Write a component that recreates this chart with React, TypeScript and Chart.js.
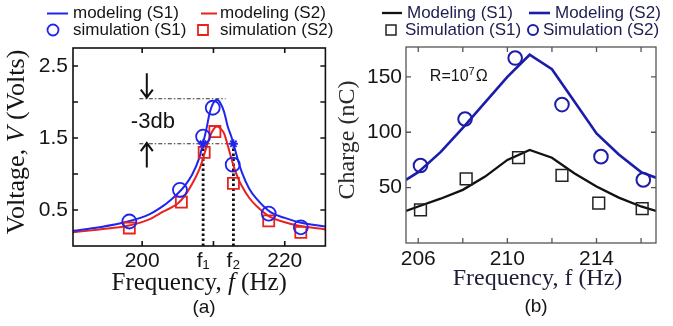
import React, { useEffect, useRef } from "react";
import { Chart, registerables } from "chart.js";

Chart.register(...registerables);

const SANS = "'Liberation Sans', Arial, Helvetica, sans-serif";
const SERIF = "'Liberation Serif', 'Times New Roman', Times, serif";

// ---------------- Panel (a): voltage vs frequency ----------------
const aModelFreq = [190.3, 194, 198, 201, 203, 204, 205, 206, 207, 208, 208.5, 209, 209.5, 210, 210.5, 211, 211.5, 212, 212.5, 213, 213.5, 214, 215, 216, 218, 220, 222, 225.7];
const aModelS1 = [0.21, 0.26, 0.34, 0.44, 0.56, 0.64, 0.73, 0.84, 0.99, 1.22, 1.41, 1.62, 1.86, 1.99, 2.03, 1.98, 1.86, 1.66, 1.52, 1.35, 1.17, 1.02, 0.8, 0.66, 0.47, 0.39, 0.33, 0.27];
const aModelS2 = [0.19, 0.23, 0.28, 0.37, 0.48, 0.53, 0.59, 0.7, 0.86, 1.06, 1.2, 1.37, 1.52, 1.62, 1.66, 1.63, 1.56, 1.4, 1.22, 1.06, 0.93, 0.83, 0.67, 0.56, 0.4, 0.33, 0.28, 0.23];
const aSimFreqS1 = [198.2, 205.3, 208.55, 209.9, 212.7, 217.75, 222.25];
const aSimS1 = [0.34, 0.78, 1.52, 1.92, 1.13, 0.45, 0.26];
const aSimFreqS2 = [198.2, 205.5, 208.7, 210.2, 212.8, 217.75, 222.25];
const aSimS2 = [0.25, 0.61, 1.3, 1.59, 0.87, 0.35, 0.19];
const aF1 = 208.55;
const aF2 = 212.8;
const aPeakLevel = 2.045;
const aHalfLevel = 1.42;
const aRefStart = 199.6;
const aPeakRefEnd = 211.7;
const aArrowX = 200.65;
const aDownArrow = [2.4, 2.06];
const aUpArrow = [1.09, 1.43];
const aDbLabel = "-3db";
const aDbLabelAt = [201.5, 1.73];
const aXTickValues = [200, aF1, aF2, 220];
const aXTickLabels = ["200", "f\u2081", "f\u2082", "220"];
const aXMarks = [200, 210, 220];
const aYTickValues = [0.5, 1.5, 2.5];
const aYTickLabels = ["0.5", "1.5", "2.5"];
const aYMarks = [0.5, 1, 1.5, 2, 2.5];
const aXRange = [190.3, 225.7];
const aYRange = [0, 2.75];

// ---------------- Panel (b): charge vs frequency ----------------
const bModelFreq = [205.45, 206, 207, 208, 209, 210, 211, 212, 213, 214, 215, 216, 216.67];
const bModelS1 = [29, 33, 40, 48, 60, 75, 84, 77, 63, 51, 41, 33, 29];
const bModelS2 = [57, 64, 82, 104, 127, 150, 170, 157, 128, 99, 80, 64, 59];
const bSimFreqS1 = [206.1, 208.15, 210.5, 212.45, 214.1, 216.05];
const bSimS1 = [30, 58, 77, 61, 36, 31];
const bSimFreqS2 = [206.1, 208.1, 210.35, 212.45, 214.2, 216.1];
const bSimS2 = [70, 112, 167, 125, 78, 57];
const bXTickValues = [206, 210, 214];
const bXMarks = [206, 208, 210, 212, 214, 216];
const bYTickValues = [50, 100, 150];
const bYMarks = [50, 100, 150];
const bXRange = [205.45, 216.67];
const bYRange = [0, 177];
const bNoteAt = [206.52, 150];

const zip = (xs: number[], ys: number[]) => xs.map((x, i) => ({ x, y: ys[i] }));

function framePlugin(id: string, xMarks: number[], yMarks: number[], color: string, width: number) {
  return {
    id,
    afterDatasetsDraw(chart: any) {
      const { ctx, chartArea, scales } = chart;
      const { left, right, top, bottom } = chartArea;
      const len = 5;
      ctx.save();
      ctx.strokeStyle = color;
      ctx.lineWidth = width;
      ctx.strokeRect(left, top, right - left, bottom - top);
      ctx.beginPath();
      xMarks.forEach((v) => {
        const px = scales.x.getPixelForValue(v);
        ctx.moveTo(px, bottom);
        ctx.lineTo(px, bottom - len);
        ctx.moveTo(px, top);
        ctx.lineTo(px, top + len);
      });
      yMarks.forEach((v) => {
        const py = scales.y.getPixelForValue(v);
        ctx.moveTo(left, py);
        ctx.lineTo(left + len, py);
        ctx.moveTo(right, py);
        ctx.lineTo(right - len, py);
      });
      ctx.stroke();
      ctx.restore();
    },
  };
}

type Part = { t: string; italic?: boolean };
function drawRich(ctx: CanvasRenderingContext2D, parts: Part[], size: number, family: string, color: string, cx: number, cy: number, rotate: boolean) {
  ctx.save();
  ctx.translate(cx, cy);
  if (rotate) ctx.rotate(-Math.PI / 2);
  const fonts = parts.map((p) => `${p.italic ? "italic " : ""}${size}px ${family}`);
  let total = 0;
  const widths = parts.map((p, i) => {
    ctx.font = fonts[i];
    const w = ctx.measureText(p.t).width;
    total += w;
    return w;
  });
  let x = -total / 2;
  ctx.fillStyle = color;
  ctx.textBaseline = "middle";
  ctx.textAlign = "left";
  parts.forEach((p, i) => {
    ctx.font = fonts[i];
    ctx.fillText(p.t, x, 0);
    x += widths[i];
  });
  ctx.restore();
}

type LegItem = { text: string; ds: number; kind: "line" | "circle" | "rect"; sx: number; sw: number; tx: number; y: number };
function legendPlugin(id: string, items: LegItem[], textColor: string) {
  return {
    id,
    afterDraw(chart: any) {
      const ctx: CanvasRenderingContext2D = chart.ctx;
      ctx.save();
      items.forEach((it) => {
        const ds: any = chart.data.datasets[it.ds];
        ctx.strokeStyle = ds.borderColor;
        ctx.lineWidth = it.kind === "line" ? ds.borderWidth : ds.pointBorderWidth;
        ctx.beginPath();
        if (it.kind === "line") {
          ctx.moveTo(it.sx, it.y);
          ctx.lineTo(it.sx + it.sw, it.y);
        } else if (it.kind === "circle") {
          ctx.arc(it.sx, it.y, it.sw, 0, Math.PI * 2);
        } else {
          ctx.rect(it.sx - it.sw, it.y - it.sw, it.sw * 2, it.sw * 2);
        }
        ctx.stroke();
        ctx.fillStyle = textColor;
        ctx.font = `17px ${SANS}`;
        ctx.textBaseline = "middle";
        ctx.textAlign = "left";
        ctx.fillText(it.text, it.tx, it.y);
      });
      ctx.restore();
    },
  };
}

function arrow(ctx: CanvasRenderingContext2D, x: number, y0: number, y1: number) {
  const dir = y1 > y0 ? 1 : -1;
  ctx.beginPath();
  ctx.moveTo(x, y0);
  ctx.lineTo(x, y1);
  ctx.moveTo(x - 6, y1 - dir * 8);
  ctx.lineTo(x, y1);
  ctx.lineTo(x + 6, y1 - dir * 8);
  ctx.stroke();
}

function buildA(): any {
  const blue = "#1f24ef";
  const red = "#e8231f";
  const annotate = {
    id: "annotateA",
    afterDraw(chart: any) {
      const { ctx, scales, chartArea } = chart;
      const { x, y } = scales;
      ctx.save();
      ctx.strokeStyle = "#111";
      ctx.lineWidth = 2;
      const ax = x.getPixelForValue(aArrowX);
      arrow(ctx, ax, y.getPixelForValue(aDownArrow[0]), y.getPixelForValue(aDownArrow[1]));
      arrow(ctx, ax, y.getPixelForValue(aUpArrow[0]), y.getPixelForValue(aUpArrow[1]));
      ctx.fillStyle = "#111";
      ctx.font = `22px ${SANS}`;
      ctx.textAlign = "center";
      ctx.textBaseline = "middle";
      ctx.fillText(aDbLabel, x.getPixelForValue(aDbLabelAt[0]), y.getPixelForValue(aDbLabelAt[1]));
      ctx.restore();
      const cx = (chartArea.left + chartArea.right) / 2;
      const cy = (chartArea.top + chartArea.bottom) / 2;
      drawRich(ctx, [{ t: "Voltage, " }, { t: "V", italic: true }, { t: " (Volts)" }], 26, SERIF, "#151515", 17, cy - 5, true);
      drawRich(ctx, [{ t: "Frequency, " }, { t: "f", italic: true }, { t: " (Hz)" }], 25, SERIF, "#151515", cx, 283, false);
      drawRich(ctx, [{ t: "(a)" }], 19, SANS, "#151515", 204, 308, false);
    },
  };
  const legend = legendPlugin(
    "legendA",
    [
      { text: "modeling (S1)", ds: 0, kind: "line", sx: 47, sw: 21, tx: 73, y: 13.5 },
      { text: "modeling (S2)", ds: 1, kind: "line", sx: 201, sw: 16, tx: 220, y: 13.5 },
      { text: "simulation (S1)", ds: 2, kind: "circle", sx: 53, sw: 5.5, tx: 73, y: 30 },
      { text: "simulation (S2)", ds: 3, kind: "rect", sx: 203, sw: 5, tx: 220, y: 30 },
    ],
    "#151515"
  );
  return {
    type: "line",
    data: {
      datasets: [
        { label: "modeling (S1)", data: zip(aModelFreq, aModelS1), borderColor: blue, borderWidth: 2, pointRadius: 0, cubicInterpolationMode: "monotone", order: 3 },
        { label: "modeling (S2)", data: zip(aModelFreq, aModelS2), borderColor: red, borderWidth: 2, pointRadius: 0, cubicInterpolationMode: "monotone", order: 4 },
        { label: "simulation (S1)", data: zip(aSimFreqS1, aSimS1), showLine: false, pointStyle: "circle", pointRadius: 7, borderColor: blue, pointBorderColor: blue, pointBackgroundColor: "rgba(0,0,0,0)", pointBorderWidth: 1.8, order: 1 },
        { label: "simulation (S2)", data: zip(aSimFreqS2, aSimS2), showLine: false, pointStyle: "rect", pointRadius: 7.8, borderColor: red, pointBorderColor: red, pointBackgroundColor: "rgba(0,0,0,0)", pointBorderWidth: 1.8, order: 2 },
        { label: "peak", data: [{ x: aRefStart, y: aPeakLevel }, { x: aPeakRefEnd, y: aPeakLevel }], borderColor: "#333", borderWidth: 1.2, borderDash: [4, 2, 1.5, 2], pointRadius: 0, order: 6 },
        { label: "half", data: [{ x: aRefStart, y: aHalfLevel }, { x: aF2, y: aHalfLevel }], borderColor: "#333", borderWidth: 1.2, borderDash: [4, 2, 1.5, 2], pointRadius: 0, order: 6 },
        { label: "f1", data: [{ x: aF1, y: aYRange[0] }, { x: aF1, y: aHalfLevel }], borderColor: "#111", borderWidth: 2.8, borderDash: [2.5, 2.5], pointRadius: 0, order: 5 },
        { label: "f2", data: [{ x: aF2, y: aYRange[0] }, { x: aF2, y: aHalfLevel }], borderColor: "#111", borderWidth: 2.8, borderDash: [2.5, 2.5], pointRadius: 0, order: 5 },
        { label: "half-power", data: [{ x: aF1, y: aHalfLevel }, { x: aF2, y: aHalfLevel }], showLine: false, pointStyle: "star", pointRadius: 4.5, pointBorderColor: blue, pointBorderWidth: 1.8, order: 0 },
      ],
    },
    options: {
      responsive: false,
      animation: false,
      devicePixelRatio: 1,
      layout: { padding: { left: 0, right: 6, top: 48, bottom: 40 } },
      plugins: { legend: { display: false }, tooltip: { enabled: false } },
      scales: {
        x: {
          type: "linear",
          min: aXRange[0],
          max: aXRange[1],
          grid: { display: false, drawTicks: false },
          border: { display: false },
          afterFit: (s: any) => { s.height = 40; },
          afterBuildTicks: (s: any) => { s.ticks = aXTickValues.map((v) => ({ value: v })); },
          ticks: { autoSkip: false, maxRotation: 0, padding: 3, color: "#151515", font: { family: SANS, size: 21 }, callback: (_v: any, i: number) => aXTickLabels[i] },
        },
        y: {
          type: "linear",
          min: aYRange[0],
          max: aYRange[1],
          grid: { display: false, drawTicks: false },
          border: { display: false },
          afterFit: (s: any) => { s.width = 73; },
          afterBuildTicks: (s: any) => { s.ticks = aYTickValues.map((v) => ({ value: v })); },
          ticks: { autoSkip: false, padding: 5, color: "#151515", font: { family: SANS, size: 21 }, callback: (_v: any, i: number) => aYTickLabels[i] },
        },
      },
    },
    plugins: [framePlugin("frameA", aXMarks, aYMarks, "#111", 1.6), annotate, legend],
  };
}

function buildB(): any {
  const navy = "#1c1caa";
  const black = "#111";
  const annotate = {
    id: "annotateB",
    afterDraw(chart: any) {
      const { ctx, scales } = chart;
      const { x, y } = scales;
      const px = x.getPixelForValue(bNoteAt[0]);
      const py = y.getPixelForValue(bNoteAt[1]);
      ctx.save();
      ctx.fillStyle = "#151515";
      ctx.textBaseline = "middle";
      ctx.textAlign = "left";
      ctx.font = `16px ${SANS}`;
      ctx.fillText("R=10", px, py);
      let w = ctx.measureText("R=10").width;
      ctx.font = `11px ${SANS}`;
      ctx.fillText("7", px + w, py - 5);
      w += ctx.measureText("7").width + 1;
      ctx.font = `16px ${SANS}`;
      ctx.fillText("\u03A9", px + w, py);
      ctx.restore();
      drawRich(ctx, [{ t: "Charge (nC)" }], 24, SERIF, "#2a2a2a", 13, 140, true);
      drawRich(ctx, [{ t: "Frequency, f (Hz)" }], 24, SERIF, "#1e1e38", 202.5, 279, false);
      drawRich(ctx, [{ t: "(b)" }], 19, SANS, "#151515", 201, 307, false);
    },
  };
  const legend = legendPlugin(
    "legendB",
    [
      { text: "Modeling (S1)", ds: 0, kind: "line", sx: 47, sw: 20, tx: 72, y: 13 },
      { text: "Modeling (S2)", ds: 1, kind: "line", sx: 194, sw: 21, tx: 220, y: 13 },
      { text: "Simulation (S1)", ds: 2, kind: "rect", sx: 56, sw: 5, tx: 70, y: 30 },
      { text: "Simulation (S2)", ds: 3, kind: "circle", sx: 198, sw: 5, tx: 208, y: 30 },
    ],
    "#1d1d50"
  );
  return {
    type: "line",
    data: {
      datasets: [
        { label: "Modeling (S1)", data: zip(bModelFreq, bModelS1), borderColor: black, borderWidth: 2.3, pointRadius: 0, tension: 0, order: 3 },
        { label: "Modeling (S2)", data: zip(bModelFreq, bModelS2), borderColor: navy, borderWidth: 2.6, pointRadius: 0, tension: 0, order: 2 },
        { label: "Simulation (S1)", data: zip(bSimFreqS1, bSimS1), showLine: false, pointStyle: "rect", pointRadius: 8.3, borderColor: "#222", pointBorderColor: "#222", pointBackgroundColor: "rgba(0,0,0,0)", pointBorderWidth: 1.5, order: 1 },
        { label: "Simulation (S2)", data: zip(bSimFreqS2, bSimS2), showLine: false, pointStyle: "circle", pointRadius: 6.8, borderColor: navy, pointBorderColor: navy, pointBackgroundColor: "rgba(0,0,0,0)", pointBorderWidth: 2, order: 0 },
      ],
    },
    options: {
      responsive: false,
      animation: false,
      devicePixelRatio: 1,
      layout: { padding: { left: 0, right: 17, top: 47, bottom: 43 } },
      plugins: { legend: { display: false }, tooltip: { enabled: false } },
      scales: {
        x: {
          type: "linear",
          min: bXRange[0],
          max: bXRange[1],
          grid: { display: false, drawTicks: false },
          border: { display: false },
          afterFit: (s: any) => { s.height = 40; },
          afterBuildTicks: (s: any) => { s.ticks = bXTickValues.map((v) => ({ value: v })); },
          ticks: { autoSkip: false, maxRotation: 0, padding: 4, color: "#151515", font: { family: SANS, size: 21 }, callback: (v: any) => String(v) },
        },
        y: {
          type: "linear",
          min: bYRange[0],
          max: bYRange[1],
          grid: { display: false, drawTicks: false },
          border: { display: false },
          afterFit: (s: any) => { s.width = 71; },
          afterBuildTicks: (s: any) => { s.ticks = bYTickValues.map((v) => ({ value: v })); },
          ticks: { autoSkip: false, padding: 4, color: "#151515", font: { family: SANS, size: 21 }, callback: (v: any) => String(v) },
        },
      },
    },
    plugins: [framePlugin("frameB", bXMarks, bYMarks, "#555", 1.3), annotate, legend],
  };
}

function ChartCanvas({ width, height, left, build }: { width: number; height: number; left: number; build: () => any }) {
  const ref = useRef<HTMLCanvasElement>(null);
  useEffect(() => {
    const chart = new Chart(ref.current as HTMLCanvasElement, build());
    return () => chart.destroy();
  }, []);
  return <canvas ref={ref} width={width} height={height} style={{ position: "absolute", left, top: 0, width, height }} />;
}

export default function App() {
  return (
    <div style={{ position: "fixed", left: 0, top: 0, width: 673, height: 326, background: "#fff", overflow: "hidden" }}>
      <ChartCanvas width={335} height={326} left={0} build={buildA} />
      <ChartCanvas width={338} height={326} left={335} build={buildB} />
    </div>
  );
}
